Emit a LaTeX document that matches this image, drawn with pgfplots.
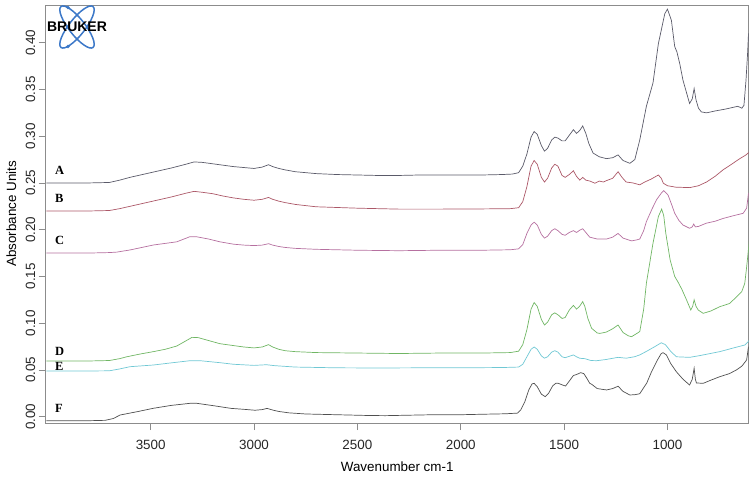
\documentclass[border=0pt]{standalone}
\usepackage{fontspec}
\setmainfont{Liberation Sans}
\newfontfamily\serifb{Liberation Serif}
\usepackage{pgfplots}
\pgfplotsset{compat=1.18}
\definecolor{cA}{RGB}{90,90,105}
\definecolor{cB}{RGB}{172,88,104}
\definecolor{cC}{RGB}{182,112,160}
\definecolor{cD}{RGB}{112,182,100}
\definecolor{cE}{RGB}{112,200,212}
\definecolor{cF}{RGB}{80,80,80}
\definecolor{frame}{RGB}{140,140,140}
\definecolor{logo}{RGB}{60,120,200}
\begin{document}
\begin{tikzpicture}
\useasboundingbox (-45.7bp,-54bp) rectangle (709.3bp,423bp);
\begin{axis}[at={(0,0)}, anchor=south west, scale only axis,
  width=703bp, height=418bp,
  xmin=607, xmax=4008, ymin=-0.00685, ymax=0.4404, x dir=reverse,
  axis line style={frame, line width=0.6bp},
  tick style={frame, line width=0.6bp},
  major tick length=7bp, tick align=outside,
  xtick pos=bottom, ytick pos=left,
  xtick={1000,1500,2000,2500,3000,3500},
  ytick={0,0.05,0.10,0.15,0.20,0.25,0.30,0.35,0.40},
  scaled y ticks=false,
  xticklabel style={font=\fontsize{13.4bp}{16bp}\selectfont, text=black!85, yshift=-7bp, /pgf/number format/set thousands separator={}},
  yticklabel style={font=\fontsize{13.4bp}{16bp}\selectfont, text=black!85, rotate=90, anchor=south, /pgf/number format/fixed, /pgf/number format/fixed zerofill, /pgf/number format/precision=2},
  /pgf/number format/assume math mode=true,
  xlabel={Wavenumber cm-1}, ylabel={Absorbance Units},
  xlabel style={font=\fontsize{13.4bp}{16bp}\selectfont, at={(axis description cs:0.5,-0.1045)}, anchor=center},
  ylabel style={font=\fontsize{13.4bp}{16bp}\selectfont, at={(axis description cs:-0.049,0.5)}, anchor=center},
  every axis plot/.append style={line width=0.7bp},
  clip=true,
]
% A
\addplot[cA] coordinates {
(4005,0.250)(3800,0.250)(3700,0.2505)(3650,0.253)(3600,0.256)(3500,0.261)(3400,0.266)(3330,0.270)(3290,0.2725)(3250,0.272)(3200,0.2705)(3150,0.269)(3100,0.2675)(3050,0.2665)(3000,0.2655)(2960,0.267)(2930,0.2695)(2910,0.2675)(2880,0.2655)(2850,0.264)(2800,0.262)(2700,0.260)(2600,0.259)(2500,0.2585)(2400,0.258)(2300,0.258)(2200,0.2585)(2100,0.2585)(2000,0.2585)(1900,0.2585)(1800,0.259)(1750,0.2595)(1720,0.261)(1700,0.268)(1680,0.281)(1660,0.299)(1645,0.305)(1630,0.302)(1610,0.290)(1595,0.284)(1580,0.287)(1560,0.296)(1545,0.299)(1530,0.298)(1510,0.295)(1495,0.295)(1475,0.301)(1455,0.307)(1440,0.303)(1425,0.306)(1410,0.311)(1395,0.303)(1380,0.292)(1360,0.282)(1330,0.278)(1295,0.276)(1265,0.277)(1239,0.280)(1215,0.274)(1182,0.271)(1158,0.275)(1134,0.296)(1102,0.332)(1070,0.357)(1044,0.399)(1013,0.431)(1000,0.436)(981,0.424)(965,0.396)(954,0.390)(940,0.377)(925,0.360)(893,0.335)(880,0.340)(871,0.351)(862,0.339)(850,0.330)(836,0.326)(811,0.325)(770,0.327)(720,0.329)(660,0.332)(640,0.330)(630,0.333)(620,0.360)(612,0.390)(608,0.410)};
% B
\addplot[cB] coordinates {
(4005,0.220)(3800,0.220)(3700,0.2205)(3650,0.2225)(3600,0.225)(3500,0.230)(3400,0.235)(3330,0.239)(3290,0.241)(3250,0.240)(3200,0.2385)(3150,0.236)(3100,0.234)(3050,0.2325)(3000,0.2315)(2960,0.2325)(2930,0.2345)(2910,0.2325)(2880,0.2305)(2850,0.229)(2800,0.227)(2700,0.2245)(2500,0.223)(2300,0.222)(2100,0.222)(1900,0.2222)(1760,0.2225)(1720,0.2235)(1700,0.230)(1680,0.246)(1660,0.268)(1645,0.274)(1630,0.270)(1610,0.256)(1595,0.251)(1580,0.255)(1560,0.266)(1545,0.270)(1530,0.268)(1510,0.258)(1495,0.256)(1475,0.259)(1455,0.263)(1440,0.257)(1424,0.253)(1410,0.256)(1395,0.253)(1375,0.252)(1351,0.2497)(1330,0.252)(1310,0.251)(1295,0.2525)(1265,0.255)(1239,0.262)(1220,0.256)(1200,0.251)(1167,0.250)(1134,0.248)(1110,0.251)(1080,0.254)(1044,0.2585)(1030,0.255)(1020,0.2497)(1000,0.247)(960,0.2455)(892,0.245)(850,0.247)(811,0.251)(770,0.257)(731,0.264)(690,0.270)(650,0.276)(620,0.280)(605,0.283)};
% C
\addplot[cC] coordinates {
(4005,0.175)(3800,0.175)(3700,0.1755)(3664,0.176)(3600,0.1783)(3487,0.1836)(3374,0.187)(3310,0.1925)(3280,0.1925)(3220,0.190)(3165,0.187)(3100,0.1845)(3050,0.1835)(3000,0.183)(2960,0.1835)(2930,0.185)(2910,0.1835)(2880,0.182)(2850,0.181)(2800,0.180)(2700,0.179)(2500,0.178)(2300,0.1775)(2100,0.178)(1900,0.178)(1760,0.1785)(1720,0.1795)(1700,0.184)(1680,0.196)(1660,0.205)(1645,0.208)(1630,0.205)(1610,0.195)(1595,0.191)(1580,0.193)(1560,0.199)(1545,0.201)(1530,0.199)(1510,0.195)(1495,0.194)(1475,0.197)(1455,0.199)(1440,0.197)(1424,0.1995)(1410,0.201)(1395,0.197)(1376,0.192)(1340,0.190)(1295,0.190)(1265,0.192)(1239,0.196)(1215,0.191)(1174,0.188)(1150,0.189)(1134,0.190)(1115,0.199)(1102,0.2086)(1075,0.222)(1053,0.232)(1030,0.239)(1018,0.2418)(997,0.237)(980,0.227)(965,0.2176)(945,0.210)(925,0.205)(893,0.2015)(880,0.203)(873,0.206)(865,0.203)(850,0.2035)(811,0.207)(770,0.209)(731,0.212)(680,0.215)(634,0.2175)(617,0.223)(608,0.239)};
% D
\addplot[cD] coordinates {
(4005,0.0595)(3800,0.0595)(3700,0.060)(3650,0.062)(3616,0.064)(3550,0.067)(3487,0.0695)(3430,0.072)(3374,0.0755)(3330,0.081)(3300,0.0848)(3270,0.0845)(3230,0.082)(3165,0.078)(3100,0.076)(3050,0.0745)(3000,0.0735)(2960,0.0745)(2930,0.077)(2910,0.0745)(2880,0.072)(2850,0.0705)(2800,0.0695)(2700,0.0685)(2500,0.068)(2300,0.0675)(2100,0.068)(1900,0.068)(1760,0.0685)(1720,0.070)(1700,0.077)(1680,0.093)(1660,0.115)(1645,0.122)(1630,0.118)(1610,0.104)(1595,0.098)(1580,0.101)(1560,0.109)(1545,0.111)(1530,0.109)(1510,0.105)(1495,0.106)(1475,0.114)(1455,0.119)(1440,0.115)(1425,0.118)(1410,0.123)(1400,0.118)(1385,0.105)(1367,0.0945)(1340,0.0895)(1327,0.089)(1295,0.0905)(1265,0.094)(1239,0.098)(1215,0.090)(1190,0.0865)(1174,0.0855)(1155,0.088)(1134,0.091)(1115,0.115)(1102,0.1426)(1070,0.1855)(1044,0.214)(1028,0.222)(1018,0.215)(1008,0.196)(987,0.1676)(965,0.150)(949,0.144)(930,0.136)(908,0.125)(887,0.114)(878,0.118)(871,0.125)(862,0.118)(851,0.114)(827,0.1105)(790,0.113)(747,0.1176)(700,0.121)(666,0.128)(640,0.134)(626,0.1426)(618,0.158)(610,0.1748)(605,0.188)};
% E
\addplot[cE] coordinates {
(4005,0.0488)(3800,0.0488)(3700,0.049)(3650,0.051)(3600,0.0534)(3487,0.0552)(3400,0.0575)(3310,0.0598)(3260,0.0598)(3165,0.0577)(3100,0.056)(3000,0.0548)(2940,0.0555)(2900,0.0545)(2800,0.0530)(2600,0.0522)(2400,0.052)(2200,0.0522)(2000,0.0522)(1800,0.0525)(1720,0.053)(1700,0.056)(1680,0.064)(1660,0.072)(1645,0.0745)(1630,0.072)(1610,0.065)(1595,0.0625)(1580,0.064)(1560,0.069)(1545,0.0705)(1530,0.069)(1510,0.064)(1495,0.063)(1475,0.0645)(1455,0.066)(1440,0.064)(1424,0.0624)(1400,0.062)(1370,0.060)(1343,0.0598)(1300,0.061)(1239,0.0634)(1200,0.0625)(1160,0.064)(1134,0.066)(1100,0.070)(1060,0.075)(1030,0.079)(1010,0.077)(985,0.070)(957,0.064)(893,0.0634)(850,0.065)(747,0.0695)(680,0.0735)(626,0.0766)(610,0.080)(605,0.082)};
% F
\addplot[cF] coordinates {
(4005,-0.0044)(3800,-0.0044)(3720,-0.004)(3680,-0.002)(3648,0.0017)(3560,0.0055)(3487,0.0089)(3400,0.012)(3310,0.0142)(3276,0.0142)(3200,0.0118)(3165,0.0106)(3111,0.0088)(3050,0.0078)(2995,0.0068)(2960,0.0075)(2937,0.0088)(2910,0.007)(2880,0.0055)(2831,0.004)(2750,0.0028)(2600,0.002)(2450,0.0012)(2366,0.001)(2250,0.0015)(2134,0.002)(2000,0.002)(1900,0.0025)(1786,0.003)(1726,0.0037)(1710,0.007)(1690,0.016)(1670,0.029)(1655,0.035)(1645,0.0356)(1630,0.032)(1610,0.024)(1591,0.0213)(1575,0.025)(1555,0.033)(1540,0.0356)(1528,0.0356)(1510,0.034)(1493,0.0327)(1475,0.038)(1455,0.044)(1440,0.045)(1420,0.047)(1405,0.046)(1390,0.041)(1376,0.0356)(1366,0.0345)(1340,0.030)(1295,0.0285)(1265,0.030)(1239,0.0325)(1215,0.027)(1182,0.0231)(1156,0.0235)(1134,0.0245)(1100,0.036)(1077,0.048)(1050,0.060)(1030,0.0675)(1021,0.0684)(1005,0.066)(985,0.057)(957,0.048)(925,0.040)(893,0.0338)(880,0.040)(871,0.0517)(865,0.040)(860,0.036)(827,0.0356)(790,0.039)(747,0.0427)(700,0.046)(666,0.050)(640,0.054)(617,0.0606)(608,0.0748)};
\begin{scope}[every node/.style={anchor=west, inner sep=0pt, font=\serifb\bfseries\fontsize{12.5bp}{14bp}\selectfont}]
\node at (axis cs:3963,0.263) {A};
\node at (axis cs:3963,0.233) {B};
\node at (axis cs:3963,0.188) {C};
\node at (axis cs:3963,0.0694) {D};
\node at (axis cs:3963,0.0534) {E};
\node at (axis cs:3963,0.0092) {F};
\end{scope}
\end{axis}
% logo
\begin{scope}[shift={(31.3bp,396bp)}]
\draw[logo, line width=1.5bp, rotate=52] (0,0) ellipse (26bp and 8bp);
\draw[logo, line width=1.5bp, rotate=-52] (0,0) ellipse (26bp and 8bp);
\fill[logo] (-9bp,19.5bp) circle (1.8bp);
\fill[logo] (-9bp,-19.5bp) circle (1.8bp);
\node[inner sep=0pt, font=\bfseries\fontsize{14bp}{16bp}\selectfont] at (0,0) {BRUKER};
\end{scope}
\end{tikzpicture}
\end{document}
